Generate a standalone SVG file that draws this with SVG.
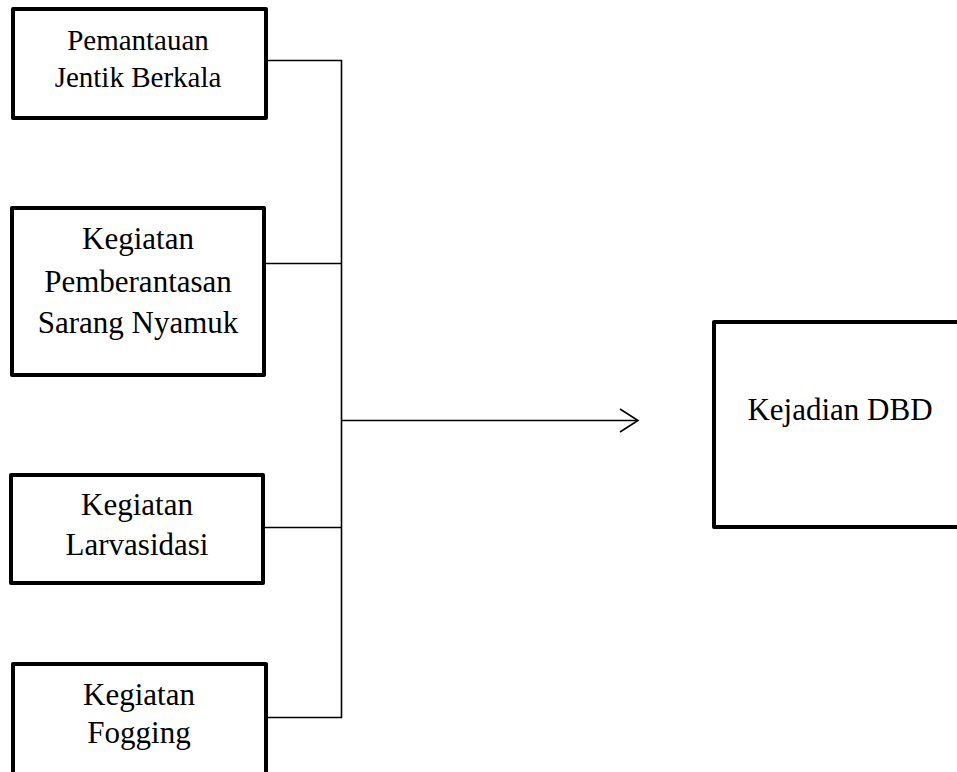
<svg xmlns="http://www.w3.org/2000/svg" width="957" height="772" viewBox="0 0 957 772">
<style>
.box{fill:#fff;stroke:#000;stroke-width:4;stroke-linejoin:round}
.lbl{font-family:"Liberation Serif","Times New Roman",serif;font-size:31px;fill:#000;text-anchor:middle}
.con{fill:none;stroke:#000;stroke-width:1.6}
</style>
<rect width="957" height="772" fill="#fff"/>
<g id="connectors">
<path class="con" d="M268 60.5H341.5V717.5H268"/>
<path class="con" d="M266 263.5H341.5"/>
<path class="con" d="M265 527.5H341.5"/>
<path class="con" d="M341.5 420.5H637"/>
<path class="con" d="M620 409L638 420.5L620 432"/>
</g>
<g id="n1">
<rect class="box" x="13" y="9" width="253" height="109"/>
<text class="lbl" style="font-size:29px" x="138" y="50">Pemantauan</text>
<text class="lbl" style="font-size:29px" x="138" y="87">Jentik Berkala</text>
</g>
<g id="n2">
<rect class="box" x="12" y="208" width="252" height="167"/>
<text class="lbl" x="138" y="249">Kegiatan</text>
<text class="lbl" x="138" y="292">Pemberantasan</text>
<text class="lbl" x="138" y="333">Sarang Nyamuk</text>
</g>
<g id="n3">
<rect class="box" x="11" y="475" width="252" height="108"/>
<text class="lbl" x="137" y="515">Kegiatan</text>
<text class="lbl" x="137" y="555">Larvasidasi</text>
</g>
<g id="n4">
<rect class="box" x="13" y="664" width="253" height="130"/>
<text class="lbl" x="139" y="705">Kegiatan</text>
<text class="lbl" x="139" y="743">Fogging</text>
</g>
<g id="n5">
<rect class="box" x="714" y="322" width="270" height="205"/>
<text class="lbl" x="840" y="420">Kejadian DBD</text>
</g>
</svg>
